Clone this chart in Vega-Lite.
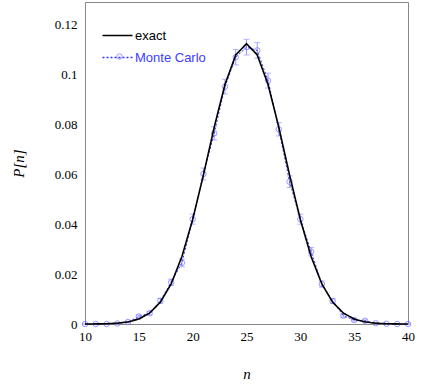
{
  "$schema": "https://vega.github.io/schema/vega-lite/v6.json",
  "autosize": {"type": "none"},
  "width": 323,
  "height": 322,
  "padding": {"left": 85, "top": 2, "right": 28, "bottom": 61},
  "background": "white",
  "config": {
    "view": {"stroke": "#888888", "strokeWidth": 1},
    "axis": {"grid": false, "ticks": false, "domainColor": "#888888", "labelFont": "Liberation Serif", "labelFontSize": 13, "labelColor": "black", "labelFlush": false, "titleFont": "Liberation Serif", "titleFontStyle": "italic", "titleFontWeight": "normal", "titleFontSize": 15, "titleColor": "black"}
  },
  "datasets": {
    "exact": [
      {"n": 10, "p": 0.0000091, "series": "exact"},
      {"n": 11, "p": 0.000033, "series": "exact"},
      {"n": 12, "p": 0.000108, "series": "exact"},
      {"n": 13, "p": 0.000315, "series": "exact"},
      {"n": 14, "p": 0.000833, "series": "exact"},
      {"n": 15, "p": 0.001999, "series": "exact"},
      {"n": 16, "p": 0.004373, "series": "exact"},
      {"n": 17, "p": 0.008746, "series": "exact"},
      {"n": 18, "p": 0.016035, "series": "exact"},
      {"n": 19, "p": 0.027006, "series": "exact"},
      {"n": 20, "p": 0.041859, "series": "exact"},
      {"n": 21, "p": 0.059691, "series": "exact"},
      {"n": 22, "p": 0.078826, "series": "exact"},
      {"n": 23, "p": 0.095962, "series": "exact"},
      {"n": 24, "p": 0.107784, "series": "exact"},
      {"n": 25, "p": 0.112275, "series": "exact"},
      {"n": 26, "p": 0.107784, "series": "exact"},
      {"n": 27, "p": 0.095962, "series": "exact"},
      {"n": 28, "p": 0.078826, "series": "exact"},
      {"n": 29, "p": 0.059691, "series": "exact"},
      {"n": 30, "p": 0.041859, "series": "exact"},
      {"n": 31, "p": 0.027006, "series": "exact"},
      {"n": 32, "p": 0.016035, "series": "exact"},
      {"n": 33, "p": 0.008746, "series": "exact"},
      {"n": 34, "p": 0.004373, "series": "exact"},
      {"n": 35, "p": 0.001999, "series": "exact"},
      {"n": 36, "p": 0.000833, "series": "exact"},
      {"n": 37, "p": 0.000315, "series": "exact"},
      {"n": 38, "p": 0.000108, "series": "exact"},
      {"n": 39, "p": 0.000033, "series": "exact"},
      {"n": 40, "p": 0.0000091, "series": "exact"}
    ],
    "mc": [
      {"n": 10, "p": 0, "lo": 0, "hi": 0, "series": "Monte Carlo", "kind": "Monte Carlo"},
      {"n": 11, "p": 0, "lo": 0, "hi": 0, "series": "Monte Carlo", "kind": "Monte Carlo"},
      {"n": 12, "p": 0, "lo": 0, "hi": 0, "series": "Monte Carlo", "kind": "Monte Carlo"},
      {"n": 13, "p": 0.0002, "lo": 0.00006, "hi": 0.00034, "series": "Monte Carlo", "kind": "Monte Carlo"},
      {"n": 14, "p": 0.0008, "lo": 0.00052, "hi": 0.00108, "series": "Monte Carlo", "kind": "Monte Carlo"},
      {"n": 15, "p": 0.0030, "lo": 0.00245, "hi": 0.00355, "series": "Monte Carlo", "kind": "Monte Carlo"},
      {"n": 16, "p": 0.0043, "lo": 0.00365, "hi": 0.00495, "series": "Monte Carlo", "kind": "Monte Carlo"},
      {"n": 17, "p": 0.0093, "lo": 0.00834, "hi": 0.01026, "series": "Monte Carlo", "kind": "Monte Carlo"},
      {"n": 18, "p": 0.0167, "lo": 0.01542, "hi": 0.01798, "series": "Monte Carlo", "kind": "Monte Carlo"},
      {"n": 19, "p": 0.0245, "lo": 0.02295, "hi": 0.02605, "series": "Monte Carlo", "kind": "Monte Carlo"},
      {"n": 20, "p": 0.0420, "lo": 0.03999, "hi": 0.04401, "series": "Monte Carlo", "kind": "Monte Carlo"},
      {"n": 21, "p": 0.0601, "lo": 0.05772, "hi": 0.06248, "series": "Monte Carlo", "kind": "Monte Carlo"},
      {"n": 22, "p": 0.0764, "lo": 0.07374, "hi": 0.07906, "series": "Monte Carlo", "kind": "Monte Carlo"},
      {"n": 23, "p": 0.0951, "lo": 0.09217, "hi": 0.09803, "series": "Monte Carlo", "kind": "Monte Carlo"},
      {"n": 24, "p": 0.1069, "lo": 0.10381, "hi": 0.10999, "series": "Monte Carlo", "kind": "Monte Carlo"},
      {"n": 25, "p": 0.1109, "lo": 0.10776, "hi": 0.11404, "series": "Monte Carlo", "kind": "Monte Carlo"},
      {"n": 26, "p": 0.1096, "lo": 0.10647, "hi": 0.11273, "series": "Monte Carlo", "kind": "Monte Carlo"},
      {"n": 27, "p": 0.0975, "lo": 0.09453, "hi": 0.10047, "series": "Monte Carlo", "kind": "Monte Carlo"},
      {"n": 28, "p": 0.0780, "lo": 0.07532, "hi": 0.08068, "series": "Monte Carlo", "kind": "Monte Carlo"},
      {"n": 29, "p": 0.0570, "lo": 0.05468, "hi": 0.05932, "series": "Monte Carlo", "kind": "Monte Carlo"},
      {"n": 30, "p": 0.0420, "lo": 0.03999, "hi": 0.04401, "series": "Monte Carlo", "kind": "Monte Carlo"},
      {"n": 31, "p": 0.0290, "lo": 0.02732, "hi": 0.03068, "series": "Monte Carlo", "kind": "Monte Carlo"},
      {"n": 32, "p": 0.0160, "lo": 0.01475, "hi": 0.01725, "series": "Monte Carlo", "kind": "Monte Carlo"},
      {"n": 33, "p": 0.0092, "lo": 0.00825, "hi": 0.01015, "series": "Monte Carlo", "kind": "Monte Carlo"},
      {"n": 34, "p": 0.0033, "lo": 0.00273, "hi": 0.00387, "series": "Monte Carlo", "kind": "Monte Carlo"},
      {"n": 35, "p": 0.0016, "lo": 0.0012, "hi": 0.002, "series": "Monte Carlo", "kind": "Monte Carlo"},
      {"n": 36, "p": 0.0013, "lo": 0.00094, "hi": 0.00166, "series": "Monte Carlo", "kind": "Monte Carlo"},
      {"n": 37, "p": 0.0003, "lo": 0.00013, "hi": 0.00047, "series": "Monte Carlo", "kind": "Monte Carlo"},
      {"n": 38, "p": 0.0001, "lo": 0, "hi": 0.0002, "series": "Monte Carlo", "kind": "Monte Carlo"},
      {"n": 39, "p": 0, "lo": 0, "hi": 0, "series": "Monte Carlo", "kind": "Monte Carlo"},
      {"n": 40, "p": 0, "lo": 0, "hi": 0, "series": "Monte Carlo", "kind": "Monte Carlo"}
    ]
  },
  "encoding": {
    "x": {"field": "n", "type": "quantitative", "scale": {"domain": [10, 40], "nice": false, "zero": false},
      "axis": {"values": [10, 15, 20, 25, 30, 35, 40], "title": "n", "titleY": 49, "titleBaseline": "middle", "labelPadding": 6}},
    "y": {"field": "p", "type": "quantitative", "scale": {"domain": [0, 0.129], "nice": false},
      "axis": {"values": [0, 0.02, 0.04, 0.06, 0.08, 0.1, 0.12], "format": "~g", "title": "P[n]", "titleX": -67, "titleBaseline": "middle", "labelPadding": 8}}
  },
  "layer": [
    {
      "data": {"name": "mc"},
      "mark": {"type": "errorbar", "ticks": {"size": 6}, "color": "#9a9aff", "thickness": 1},
      "encoding": {
        "y": {"field": "lo", "type": "quantitative"},
        "y2": {"field": "hi"}
      }
    },
    {
      "data": {"name": "mc"},
      "mark": {"type": "line", "strokeWidth": 1},
      "encoding": {
        "color": {"field": "series", "type": "nominal",
          "scale": {"domain": ["exact", "Monte Carlo"], "range": ["black", "#3030ff"]},
          "legend": {"orient": "none", "legendX": 26, "legendY": 27, "title": null, "padding": 0,
            "symbolType": "M-3,0H3", "symbolSize": 100, "symbolStrokeWidth": 1.5,
            "labelFont": "Liberation Sans", "labelFontSize": 13, "labelOffset": 11, "rowPadding": 8,
            "encode": {"labels": {"update": {"fill": {"signal": "datum.label == 'exact' ? 'black' : '#3d3dff'"}}}}}},
        "strokeDash": {"field": "series", "type": "nominal",
          "scale": {"domain": ["exact", "Monte Carlo"], "range": [[1, 0], [2, 2]]}}
      }
    },
    {
      "data": {"name": "mc"},
      "mark": {"type": "point", "filled": false, "size": 30, "color": "#7070ff", "strokeWidth": 1},
      "encoding": {
        "shape": {"field": "kind", "type": "nominal",
          "scale": {"domain": ["Monte Carlo"], "range": ["circle"]},
          "legend": {"orient": "none", "legendX": 28, "legendY": 48, "title": null, "padding": 0,
            "symbolSize": 30, "symbolStrokeColor": "#7070ff", "symbolFillColor": "transparent", "symbolStrokeWidth": 1,
            "labelFontSize": 13, "labelExpr": "''"}}
      }
    },
    {
      "data": {"name": "exact"},
      "mark": {"type": "line", "strokeWidth": 1.6},
      "encoding": {
        "color": {"field": "series", "type": "nominal"},
        "strokeDash": {"field": "series", "type": "nominal"}
      }
    }
  ]
}
